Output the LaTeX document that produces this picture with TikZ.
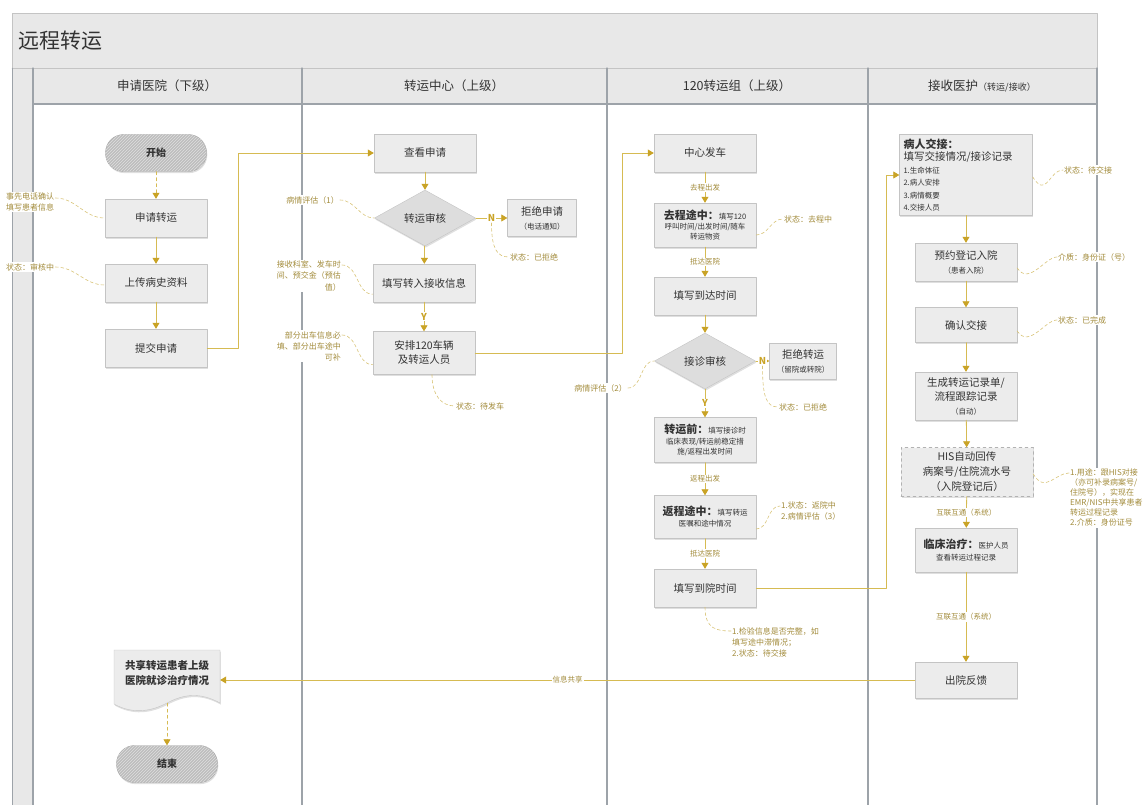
\documentclass[tikz,border=0pt]{standalone}
\usepackage{fontspec}
\setmainfont{Noto Sans CJK SC}
\usepackage{tikz}
\usetikzlibrary{arrows.meta}
\usetikzlibrary{shapes.geometric}
\usetikzlibrary{shadows}
\usetikzlibrary{patterns}
\definecolor{gold}{HTML}{D6BB52}
\definecolor{goldtip}{HTML}{C9A326}
\definecolor{cuegold}{HTML}{D8C376}
\definecolor{notetext}{HTML}{A38C3C}
\definecolor{boxfill}{HTML}{ECECEC}
\definecolor{diafill}{HTML}{DDDDDD}
\definecolor{boxline}{HTML}{C4C4C4}
\definecolor{lanegray}{HTML}{9DA3A9}
\definecolor{headfill}{HTML}{E8E8E8}
\definecolor{termfill}{HTML}{BDBDBD}
\definecolor{inktext}{HTML}{333333}
\newcommand{\boxlead}[1]{{\fontsize{11}{13}\selectfont\bfseries #1}}

\begin{document}
\begin{tikzpicture}[line cap=round,line join=round,x=1pt,y=-1pt,
  >={Triangle[length=6pt,width=7pt,color=goldtip]},
  shade box/.style={drop shadow={opacity=0.25,shadow xshift=0.8pt,shadow yshift=-1.6pt}},
  proc/.style={rectangle,draw=boxline,fill=boxfill,text=inktext,shade box,
    minimum width=102pt,minimum height=38pt,inner sep=3pt,align=center,
    font=\fontsize{10.5}{14}\selectfont},
  decide/.style={diamond,draw=boxline,fill=diafill,text=inktext,shade box,
    minimum width=101pt,minimum height=56pt,inner sep=0pt,
    font=\fontsize{10.5}{14}\selectfont},
  termin/.style={rectangle,rounded corners=18pt,draw=gray!70,fill=termfill,text=inktext,
    postaction={pattern=north east lines,pattern color=gray!25},shade box,
    minimum width=101pt,minimum height=37pt,font=\fontsize{10}{12}\selectfont\bfseries},
  lanehead/.style={text=inktext,font=\fontsize{12.5}{15}\selectfont},
  note/.style={text=notetext,fill=white,inner sep=1pt,font=\fontsize{8}{11}\selectfont},
  tag/.style={text=notetext,fill=white,inner sep=1pt,font=\fontsize{7.5}{9}\selectfont},
  flag/.style={text=goldtip,fill=white,inner sep=1pt,font=\fontsize{9.5}{11}\selectfont\bfseries},
  flow/.style={draw=gold,line width=0.8pt,->},
  cue/.style={draw=cuegold,line width=0.6pt,dash pattern=on 3pt off 2.5pt}
]
\useasboundingbox (0,0) rectangle (1146,805);
% pool and lanes
\fill[headfill] (12,13) rectangle (1097,68);
\fill[headfill] (12,68) rectangle (33,810);
\fill[headfill] (33,68) rectangle (1097,104);
\draw[boxline] (12,810) -- (12,13) -- (1097,13) -- (1097,68);
\draw[boxline] (12,68) -- (1097,68);
\foreach \x in {33,302,607,868,1097}
  \draw[lanegray,line width=1.1pt] (\x,68) -- (\x,810);
\draw[lanegray,line width=1.1pt] (33,104) -- (1097,104);
\draw[lanegray] (12,68) -- (12,810);
\node[anchor=west,text=inktext,font=\fontsize{21}{24}\selectfont] (title) at (15,41) {远程转运};
\node[lanehead] (lane1) at (167,86) {申请医院（下级）};
\node[lanehead] (lane2) at (454,86) {转运中心（上级）};
\node[lanehead] (lane3) at (737,86) {120转运组（上级）};
\node[lanehead] (lane4) at (982,86) {接收医护{\fontsize{9}{11}\selectfont（转运/接收）}};

% 申请医院
\node[termin] (start) at (156,153) {开始};
\node[proc] (apply) at (156,218) {申请转运};
\node[proc] (upload) at (156,283) {上传病史资料};
\node[proc] (submit) at (156,348) {提交申请};
\draw[boxline,fill=boxfill,shade box] (114,650) -- (220,650) -- (220,703)
  .. controls (200,692) and (184,694) .. (167,703)
  .. controls (150,712) and (132,714) .. (114,704) -- cycle;
\node[text=inktext,font=\fontsize{10.5}{15}\selectfont\bfseries,align=center,
  minimum width=106pt,minimum height=48pt] (share) at (167,673) {共享转运患者上级\\医院就诊治疗情况};
\node[termin] (finish) at (167,764) {结束};

% 转运中心
\node[proc] (view) at (425,153) {查看申请};
\node[decide] (check1) at (425,218) {转运审核};
\node[proc,minimum width=69pt,minimum height=37pt] (reject1) at (542,218)
  {拒绝申请\\{\fontsize{7.5}{9}\selectfont（电话通知）}};
\node[proc] (fillin) at (424,283) {填写转入接收信息};
\node[proc,minimum height=43pt] (arrange) at (424,353) {安排120车辆\\及转运人员};

% 120转运组
\node[proc] (depart) at (705,153) {中心发车};
\node[proc,minimum height=44pt,font=\fontsize{7.5}{10}\selectfont] (goway) at (705,225)
  {\boxlead{去程途中：}填写120\\呼叫时间/出发时间/随车\\转运物资};
\node[proc] (arrive) at (705,296) {填写到达时间};
\node[decide] (check2) at (705,361) {接诊审核};
\node[proc,minimum width=67pt,minimum height=36pt] (reject2) at (803,361)
  {拒绝转运\\{\fontsize{7.5}{9}\selectfont（留院或转院）}};
\node[proc,minimum height=45pt,font=\fontsize{7.5}{10.5}\selectfont] (before) at (705,440)
  {\boxlead{转运前：}填写接诊时\\临床表现/转运前稳定措\\施/返程出发时间};
\node[proc,minimum height=43pt,font=\fontsize{7.5}{11}\selectfont] (back) at (705,517)
  {\boxlead{返程途中：}填写转运\\医嘱和途中情况};
\node[proc] (reach) at (705,588) {填写到院时间};

% 接收医护
\node[proc,text width=125pt,align=left,inner sep=4pt,font=\fontsize{7.5}{12.5}\selectfont] (handover) at (966,175)
  {\boxlead{病人交接：}\\{\fontsize{10.5}{14}\selectfont 填写交接情况/接诊记录}\\1.生命体征\\2.病人安排\\3.病情概要\\4.交接人员};
\node[proc] (book) at (966,262) {预约登记入院\\{\fontsize{7.5}{9}\selectfont（患者入院）}};
\node[proc,minimum height=35pt] (confirm) at (966,325) {确认交接};
\node[proc,minimum height=48pt] (record) at (966,396)
  {生成转运记录单/\\流程跟踪记录\\{\fontsize{7.5}{9}\selectfont（自动）}};
\node[proc,dashed,draw=gray!60,minimum width=132pt,minimum height=49pt,font=\fontsize{10.5}{15}\selectfont] (his) at (967,472)
  {HIS自动回传\\病案号/住院流水号\\（入院登记后）};
\node[proc,minimum height=44pt,font=\fontsize{7.5}{12}\selectfont] (clinic) at (966,550)
  {\boxlead{临床治疗：}医护人员\\查看转运过程记录};
\node[proc,minimum height=36pt] (leave) at (966,680) {出院反馈};

% connectors
\draw[flow,dashed] (start) -- (apply);
\draw[flow] (apply) -- (upload);
\draw[flow] (upload) -- (submit);
\draw[flow] (submit.east) -- ++(31,0) |- (view.west);
\draw[flow] (view) -- (check1);
\draw[flow] (check1) -- node[flag] (fn1) {N} (reject1);
\draw[flow] (check1) -- (fillin);
\draw[flow] (fillin) -- node[flag] (fy1) {Y} (arrange);
\draw[flow] (arrange.east) -- ++(147,0) |- (depart.west);
\draw[flow] (depart) -- node[tag] (t1) {去程出发} (goway);
\draw[flow] (goway) -- node[tag] (t2) {抵达医院} (arrive);
\draw[flow] (arrive) -- (check2);
\draw[flow] (check2) -- node[flag] (fn2) {N} (reject2);
\draw[flow] (check2) -- node[flag] (fy2) {Y} (before);
\draw[flow] (before) -- node[tag] (t3) {返程出发} (back);
\draw[flow] (back) -- node[tag] (t4) {抵达医院} (reach);
\draw[flow] (reach.east) -- ++(130,0) |- (handover.west);
\draw[flow] (handover) -- (book);
\draw[flow] (book) -- (confirm);
\draw[flow] (confirm) -- (record);
\draw[flow] (record) -- (his);
\draw[flow] (his) -- node[tag] (t5) {互联互通（系统）} (clinic);
\draw[flow] (clinic) -- node[tag] (t6) {互联互通（系统）} (leave);
\draw[flow] (leave.west) -- node[tag] (t7) {信息共享} (leave.west -| share.east);
\draw[flow,dashed] ([yshift=-6pt]share.south) -- (finish);

% notes
\node[note,anchor=west,align=left] (c1) at (5,202) {事先电话确认\\填写患者信息};
\draw[cue] ([yshift=4pt]c1.east) to[out=0,in=180] (apply.west);
\node[note,anchor=west] (c2) at (5,267) {状态：审核中};
\draw[cue] (c2.east) to[out=0,in=180] ([yshift=-2pt]upload.west);
\node[note,anchor=east] (c3) at (340,200) {病情评估（1）};
\draw[cue] (c3.east) to[out=0,in=180] (check1.west);
\node[note,anchor=north east,align=right] (c4) at (342,260) {接收科室、发车时\\间、预交金（预估\\值）};
\draw[cue] ([yshift=-5pt]c4.north east) to[out=0,in=180] ([yshift=8pt]fillin.south west);
\node[note,anchor=north east,align=right] (c5) at (342,330) {部分出车信息必\\填、部分出车途中\\可补};
\draw[cue] ([yshift=-5pt]c5.north east) to[out=0,in=180] ([yshift=10pt]arrange.south west);
\node[note,anchor=west] (c6) at (455,406) {状态：待发车};
\draw[cue] ([xshift=8pt]arrange.south) .. controls +(0,20) and +(-14,0) .. (c6.west);
\node[note,anchor=west] (c7) at (509,257) {状态：已拒绝};
\draw[cue] (fn1.south) .. controls +(0,26) and +(-12,0) .. (c7.west);
\node[note,anchor=west] (c8) at (783,219) {状态：去程中};
\draw[cue] ([yshift=-10pt]goway.east) to[out=0,in=180] (c8.west);
\node[note,anchor=east] (c9) at (628,388) {病情评估（2）};
\draw[cue] (c9.east) to[out=0,in=180] (check2.west);
\node[note,anchor=west] (c10) at (778,407) {状态：已拒绝};
\draw[cue] (fn2.south) .. controls +(0,30) and +(-12,0) .. (c10.west);
\node[note,anchor=north west,align=left] (c11) at (780,501) {1.状态：返院中\\2.病情评估（3）};
\draw[cue] ([yshift=-12pt]back.east) to[out=0,in=180] ([yshift=-5pt]c11.north west);
\node[note,anchor=north west,align=left] (c12) at (731,626) {1.检验信息是否完整，如\\填写途中滞情况；\\2.状态：待交接};
\draw[cue] (reach.south) .. controls +(0,22) and +(-14,0) .. ([yshift=-5pt]c12.north west);
\node[note,anchor=west] (c13) at (1063,170) {状态：待交接};
\draw[cue] ([yshift=-2pt]handover.east) .. controls +(14,22) and +(-14,0) .. (c13.west);
\node[note,anchor=west] (c14) at (1057,257) {介质：身份证（号）};
\draw[cue] ([yshift=-6pt]book.east) .. controls +(12,18) and +(-12,0) .. (c14.west);
\node[note,anchor=west] (c15) at (1057,320) {状态：已完成};
\draw[cue] ([yshift=-6pt]confirm.east) .. controls +(12,18) and +(-12,0) .. (c15.west);
\node[note,anchor=north west,align=left,font=\fontsize{8}{10}\selectfont] (c16) at (1069,468)
  {1.用途：跟HIS对接\\（亦可补录病案号/\\住院号），实现在\\EMR/NIS中共享患者\\转运过程记录\\2.介质：身份证号};
\draw[cue] ([yshift=-2pt]his.east) .. controls +(12,20) and +(-14,0) .. ([yshift=-5pt]c16.north west);
\end{tikzpicture}
\end{document}
